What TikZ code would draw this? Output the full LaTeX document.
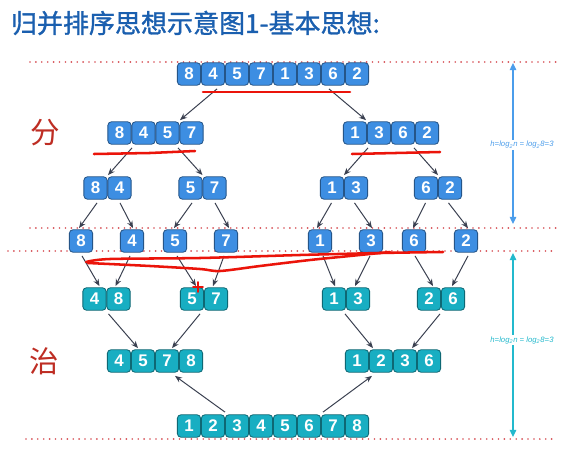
\documentclass[tikz,border=0pt]{standalone}
\usepackage{fontspec}
\setsansfont{Liberation Sans}
\newfontfamily\cjk{Noto Sans CJK SC}
\newfontfamily\cjktitle[FakeBold=1.2]{Noto Sans CJK SC}
\usepackage{tikz}
\usetikzlibrary{arrows.meta,calc,fit}

\definecolor{boxblue}{RGB}{61,142,226}
\definecolor{boxteal}{RGB}{24,174,194}
\definecolor{titleblue}{RGB}{26,95,175}
\definecolor{hanred}{RGB}{190,45,35}
\definecolor{dotred}{RGB}{215,80,85}
\definecolor{linkgray}{RGB}{58,64,80}
\definecolor{penred}{RGB}{235,20,10}
\definecolor{hblue}{RGB}{75,157,235}
\definecolor{hteal}{RGB}{35,185,205}

\tikzset{
    cell/.style={draw=#1!60!black, fill=#1, rounded corners=2.5pt, minimum width=0.58cm, minimum height=0.56cm, inner sep=0pt, text=white, font=\sffamily\bfseries\fontsize{12}{12}\selectfont, line width=0.6pt},
    grp/.style={inner sep=0pt},
    conn/.style={-{Stealth[length=5pt,width=4pt]}, draw=linkgray, line width=0.7pt},
    level/.style={dotred, line width=1.3pt, dash pattern=on 0pt off 4.2pt, line cap=round},
    pen/.style={penred, line width=1.8pt, line cap=round, line join=round},
    height/.style={{Triangle[length=5pt,width=4.5pt]}-{Triangle[length=5pt,width=4.5pt]}, line width=1pt},
    hlabel/.style={fill=white, inner sep=1pt, font=\sffamily\itshape\fontsize{5.5}{6}\selectfont},
}

% one row of cells: name, x, y, colour, values
\newcommand{\cellrow}[5]{%
    \foreach \val [count=\i] in {#5} {\xdef\ncount{\i}}
    \foreach \val [count=\i] in {#5} {
        \node[cell=#4] (#1-\i) at ({#2+(\i-0.5-\ncount/2)*24},#3) {\val};
    }
    \node[grp, fit=(#1-1)(#1-\ncount)] (#1) {};
}
% arrow from the bottom of one row to the top of the next
\newcommand{\mlink}[4]{\draw[conn] ($(#1.south)+(#2,3)$) -- ($(#3.north)+(#4,-1)$);}

\begin{document}
\begin{tikzpicture}[x=0.025cm, y=-0.025cm]
    \useasboundingbox[fill=white] (0,0) rectangle (578,453);

    \node[anchor=west, text=titleblue, font=\cjktitle\fontsize{18.5}{20}\selectfont] (title) at (6,23) {归并排序思想示意图1-基本思想:};

    %levels
    \draw[level] (30,62) -- (560,62);
    \draw[level] (30,228) -- (557,228);
    \draw[level] (8,251) -- (557,251);
    \draw[level] (26,439) -- (553,439);

    \node[text=hanred, font=\cjk\fontsize{21}{21}\selectfont] (fen) at (45,133) {分};
    \node[text=hanred, font=\cjk\fontsize{21}{21}\selectfont] (zhi) at (44,361) {治};

    %divide
    \cellrow{top}{273}{74}{boxblue}{8,4,5,7,1,3,6,2}
    \cellrow{l2}{155.5}{133}{boxblue}{8,4,5,7}
    \cellrow{r2}{391}{133}{boxblue}{1,3,6,2}
    \cellrow{a3}{107.5}{188}{boxblue}{8,4}
    \cellrow{b3}{202.5}{188}{boxblue}{5,7}
    \cellrow{c3}{344}{188}{boxblue}{1,3}
    \cellrow{d3}{438}{188}{boxblue}{6,2}
    \cellrow{n1}{81}{241}{boxblue}{8}
    \cellrow{n2}{132}{241}{boxblue}{4}
    \cellrow{n3}{175}{241}{boxblue}{5}
    \cellrow{n4}{226}{241}{boxblue}{7}
    \cellrow{n5}{320}{241}{boxblue}{1}
    \cellrow{n6}{371}{241}{boxblue}{3}
    \cellrow{n7}{414}{241}{boxblue}{6}
    \cellrow{n8}{466}{241}{boxblue}{2}
    %conquer
    \cellrow{p1}{106.5}{299}{boxteal}{4,8}
    \cellrow{p2}{204}{299}{boxteal}{5,7}
    \cellrow{p3}{346}{299}{boxteal}{1,3}
    \cellrow{p4}{441}{299}{boxteal}{2,6}
    \cellrow{q1}{155}{361}{boxteal}{4,5,7,8}
    \cellrow{q2}{393}{361}{boxteal}{1,2,3,6}
    \cellrow{bot}{273}{426}{boxteal}{1,2,3,4,5,6,7,8}

    \mlink{top}{-56}{l2}{24.5}
    \mlink{top}{56}{r2}{-25}
    \mlink{l2}{-23.5}{a3}{0.5}
    \mlink{l2}{22.5}{b3}{0}
    \mlink{r2}{-23}{c3}{0}
    \mlink{r2}{23}{d3}{0}
    \mlink{a3}{-10.5}{n1}{-2}
    \mlink{a3}{12.5}{n2}{1}
    \mlink{b3}{-10.5}{n3}{-1}
    \mlink{b3}{12.5}{n4}{3}
    \mlink{c3}{-12.5}{n5}{-3}
    \mlink{c3}{10.5}{n6}{1}
    \mlink{d3}{-12.5}{n7}{-1}
    \mlink{d3}{10.5}{n8}{2}
    \mlink{n1}{1}{p1}{-7}
    \mlink{n2}{-2}{p1}{9}
    \mlink{n3}{2}{p2}{-8}
    \mlink{n4}{-2}{p2}{9}
    \mlink{n5}{3}{p3}{-11}
    \mlink{n6}{-1}{p3}{9}
    \mlink{n7}{1}{p4}{-8}
    \mlink{n8}{2}{p4}{11}
    \mlink{p1}{2}{q1}{-17}
    \mlink{p2}{-4}{q1}{17}
    \mlink{p3}{-1}{q2}{-20}
    \mlink{p4}{-1}{q2}{19}
    \draw[conn] ($(bot.north)+(-48,-2)$) -- ($(q1.south)+(20,3)$);
    \draw[conn] ($(bot.north)+(50,-2)$) -- ($(q2.south)+(-21,3)$);

    %tree height
    \coordinate (h1t) at (513,63);
    \coordinate (h1b) at (513,224);
    \coordinate (h2t) at (513,253);
    \coordinate (h2b) at (513,437);
    \draw[height, hblue] (h1t) -- (h1b);
    \draw[height, hteal] (h2t) -- (h2b);
    \node[hlabel, text=hblue] (h1) at (522,145) {h=log\textsubscript{2}n = log\textsubscript{2}8=3};
    \node[hlabel, text=hteal] (h2) at (522,340) {h=log\textsubscript{2}n = log\textsubscript{2}8=3};

    %red pen marks
    \draw[pen] (203,92) -- (350,92);
    \draw[pen] (94,154) -- (150,153) -- (195,151);
    \draw[pen] (352,154) -- (440,152);
    \draw[pen] plot[smooth] coordinates {(86,262) (110,259) (200,258) (300,255) (380,253) (443,252)};
    \draw[pen] plot[smooth] coordinates {(88,263) (150,266) (200,269) (220,271) (260,266) (310,260) (350,256) (390,252)};
    \draw[pen, line width=1.2pt] (193,287) -- (203,287) (198,282) -- (198,292);
\end{tikzpicture}
\end{document}
